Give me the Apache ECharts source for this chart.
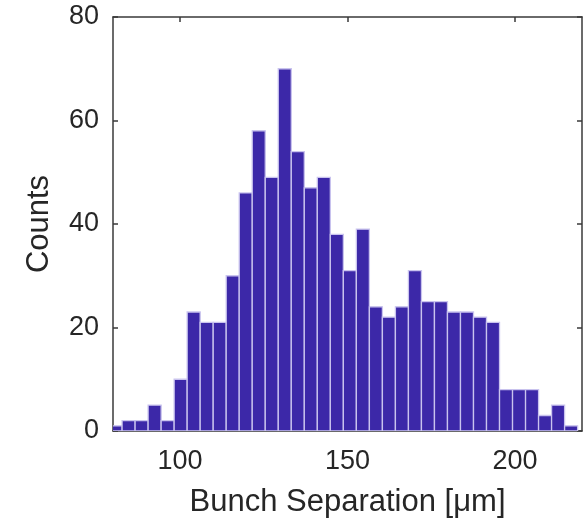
<!DOCTYPE html>
<html>
<head>
<meta charset="utf-8">
<script src="https://cdn.jsdelivr.net/npm/echarts@6/dist/echarts.min.js"></script>
<style>
  html, body { margin: 0; padding: 0; background: #fff; }
  #chart { width: 587px; height: 520px; }
</style>
</head>
<body>
<div id="chart"></div>
<script>
// Histogram of bunch separations
const binStart = 78.83;      // left edge of first bin [µm]
const binWidth = 3.885;      // bin width [µm]
const counts = [1, 2, 2, 5, 2, 10, 23, 21, 21, 30, 46, 58, 49, 70, 54, 47, 49, 38,
                31, 39, 24, 22, 24, 31, 25, 25, 23, 23, 22, 21, 8, 8, 8, 3, 5, 1];
const xTicks = [100, 150, 200];
const yTicks = [0, 20, 40, 60, 80];

const FONT = 'Liberation Sans, Arial, sans-serif';
const TEXT = '#262626';
const AXIS = '#3a3a3a';

const binData = counts.map((c, i) => [binStart + i * binWidth, binStart + (i + 1) * binWidth, c]);

const chart = echarts.init(document.getElementById('chart'), null, { renderer: 'canvas' });

const axisLine = { show: true, onZero: false, lineStyle: { color: AXIS, width: 1.5 } };
const tickStyle = { show: true, inside: true, length: 5, lineStyle: { color: AXIS, width: 1.5 } };

chart.setOption({
  animation: false,
  grid: { left: 113, right: 5, top: 17, bottom: 89, containLabel: false, outerBoundsMode: 'none' },
  xAxis: [
    {
      type: 'value', min: 80, max: 220,
      axisLine,
      axisTick: Object.assign({}, tickStyle, { customValues: xTicks }),
      axisLabel: {
        fontFamily: FONT, fontSize: 27, color: TEXT, margin: 17,
        customValues: xTicks
      },
      splitLine: { show: false },
      name: 'Bunch Separation [\u03bcm]', nameLocation: 'middle', nameGap: 56,
      nameTextStyle: { fontFamily: FONT, fontSize: 31, color: TEXT }
    },
    {
      type: 'value', min: 80, max: 220, position: 'top',
      axisLine,
      axisTick: Object.assign({}, tickStyle, { customValues: xTicks }),
      axisLabel: { show: false }, splitLine: { show: false }
    }
  ],
  yAxis: [
    {
      type: 'value', min: 0, max: 80,
      axisLine,
      axisTick: Object.assign({}, tickStyle, { customValues: yTicks }),
      axisLabel: { fontFamily: FONT, fontSize: 27, color: TEXT, margin: 14, customValues: yTicks },
      splitLine: { show: false },
      name: 'Counts', nameLocation: 'middle', nameGap: 58,
      nameTextStyle: { fontFamily: FONT, fontSize: 31, color: TEXT }
    },
    {
      type: 'value', min: 0, max: 80, position: 'right',
      axisLine,
      axisTick: Object.assign({}, tickStyle, { customValues: yTicks }),
      axisLabel: { show: false }, splitLine: { show: false }
    }
  ],
  series: [{
    type: 'custom',
    xAxisIndex: 0, yAxisIndex: 0,
    clip: true,
    data: binData,
    renderItem: function (params, api) {
      const topLeft = api.coord([api.value(0), api.value(2)]);
      const bottomRight = api.coord([api.value(1), 0]);
      return {
        type: 'rect',
        shape: {
          x: topLeft[0], y: topLeft[1],
          width: bottomRight[0] - topLeft[0],
          height: bottomRight[1] - topLeft[1]
        },
        style: { fill: '#3c28a8', stroke: '#c9c3ee', lineWidth: 1.3 }
      };
    }
  }]
});
</script>
</body>
</html>
